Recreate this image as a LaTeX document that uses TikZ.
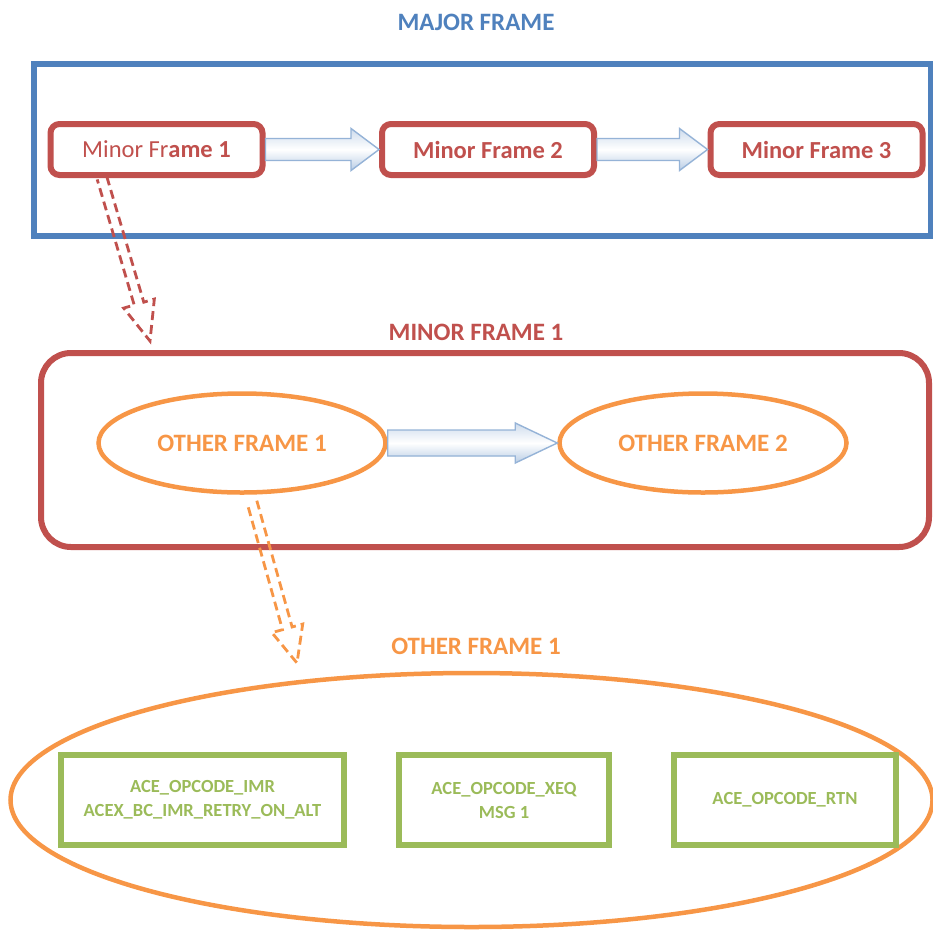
\documentclass[tikz,border=0pt]{standalone}
\usepackage{fontspec}
\setmainfont{Carlito}
\usetikzlibrary{calc,shapes.geometric}
\definecolor{officeblue}{HTML}{4F81BD}
\definecolor{officered}{HTML}{C0504D}
\definecolor{officeorange}{HTML}{F79646}
\definecolor{officegreen}{HTML}{9BBB59}
\definecolor{arrowedge}{HTML}{95B3D7}
\definecolor{arrowfill}{HTML}{B9CDE5}
\definecolor{arrowshadow}{HTML}{A6B5C8}

% block arrow between two nodes: from, to, shaft half height, head half height, head length
\newcommand\blockarrow[5]{%
  \coordinate (ba-a) at (#1.east);
  \coordinate (ba-b) at (#2.west);
  \fill[arrowshadow,opacity=.7,shift={(2.5pt,-3.5pt)}]
    ($(ba-a)+(0,-#3)$) -- ($(ba-b)+(-#5,-#3)$) -- ($(ba-b)+(-#5,-#4)$) -- (ba-b)
    -- ($(ba-b)+(-#5,#4)$) -- ($(ba-b)+(-#5,#3)$) -- ($(ba-a)+(0,#3)$) -- cycle;
  \draw[arrowedge,line width=1.4pt,top color=arrowfill!70,bottom color=arrowfill,middle color=white]
    ($(ba-a)+(0,-#3)$) -- ($(ba-b)+(-#5,-#3)$) -- ($(ba-b)+(-#5,-#4)$) -- (ba-b)
    -- ($(ba-b)+(-#5,#4)$) -- ($(ba-b)+(-#5,#3)$) -- ($(ba-a)+(0,#3)$) -- cycle;
}

% hollow dashed arrow: start, tip, colour, head length
\newcommand\hollowarrow[4]{%
  \coordinate (ha-n) at ($(#2)!#4!(#1)$);
  \draw[#3,line width=2.8pt,dash pattern=on 9pt off 5pt,line join=miter]
    ($(#1)!5pt!90:(#2)$) -- ($(ha-n)!5pt!90:(#2)$) -- ($(ha-n)!16pt!90:(#2)$)
    -- (#2) -- ($(ha-n)!16pt!-90:(#2)$) -- ($(ha-n)!5pt!-90:(#2)$)
    -- ($(#1)!5pt!-90:(#2)$);
}

\tikzset{
  title/.style={font=\fontsize{25}{30}\selectfont\bfseries},
  minorbox/.style={draw=officered,line width=6pt,rounded corners=9pt,
    minimum width=212pt,minimum height=51pt,text=officered,
    font=\fontsize{24.5}{28}\selectfont},
  otherell/.style={ellipse,draw=officeorange,line width=4.5pt,minimum width=287pt,
    minimum height=99pt,text=officeorange,font=\fontsize{25}{30}\selectfont\bfseries},
  opbox/.style={draw=officegreen,line width=5.5pt,minimum height=90pt,text=officegreen,
    align=center,font=\fontsize{18.5}{24}\selectfont\bfseries}
}

\begin{document}
\begin{tikzpicture}[x=1pt,y=-1pt]
\useasboundingbox (0,0) rectangle (933,929);

% major frame
\node[title,text=officeblue] (t1) at (476,22) {MAJOR FRAME};
\node[draw=officeblue,line width=5.5pt,minimum width=897pt,minimum height=172pt] (major) at (482.5,150) {};
\node[minorbox] (mf1) at (156.5,149.5) {Minor Fr\textbf{ame 1}};
\node[minorbox,font=\fontsize{24.5}{28}\selectfont\bfseries] (mf2) at (488,149.5) {Minor Frame 2};
\node[minorbox,font=\fontsize{24.5}{28}\selectfont\bfseries] (mf3) at (816.5,149.5) {Minor Frame 3};
\blockarrow{mf1}{mf2}{11pt}{21pt}{28pt}
\blockarrow{mf2}{mf3}{11pt}{21pt}{28pt}

% minor frame 1 detail
\node[title,text=officered] (t2) at (476,332) {MINOR FRAME 1};
\node[draw=officered,line width=6pt,rounded corners=30pt,minimum width=888pt,minimum height=194pt] (minor) at (485,450) {};
\node[otherell] (of1) at (242,443) {OTHER FRAME 1};
\node[otherell] (of2) at (703,443) {OTHER FRAME 2};
\blockarrow{of1}{of2}{13pt}{20pt}{42pt}

\coordinate (d1s) at ($(mf1.south west)!0.25!(mf1.south east)$);
\coordinate (d1e) at (150,341);
\hollowarrow{d1s}{d1e}{officered}{39pt}

% other frame 1 detail
\node[title,text=officeorange] (t3) at (476,646) {OTHER FRAME 1};
\node[ellipse,draw=officeorange,line width=4.5pt,minimum width=922pt,minimum height=254pt] (big) at (471.5,800) {};
\node[opbox,minimum width=283pt] (op1) at (202.5,800) {ACE\_OPCODE\_IMR\\ACEX\_BC\_IMR\_RETRY\_ON\_ALT};
\node[opbox,minimum width=210pt] (op2) at (504,800) {ACE\_OPCODE\_XEQ\\MSG 1};
\node[opbox,minimum width=222pt] (op3) at (785,800) {ACE\_OPCODE\_RTN};

\coordinate (d2s) at (252,502);
\coordinate (d2e) at (297,663);
\hollowarrow{d2s}{d2e}{officeorange}{36pt}
\end{tikzpicture}
\end{document}
